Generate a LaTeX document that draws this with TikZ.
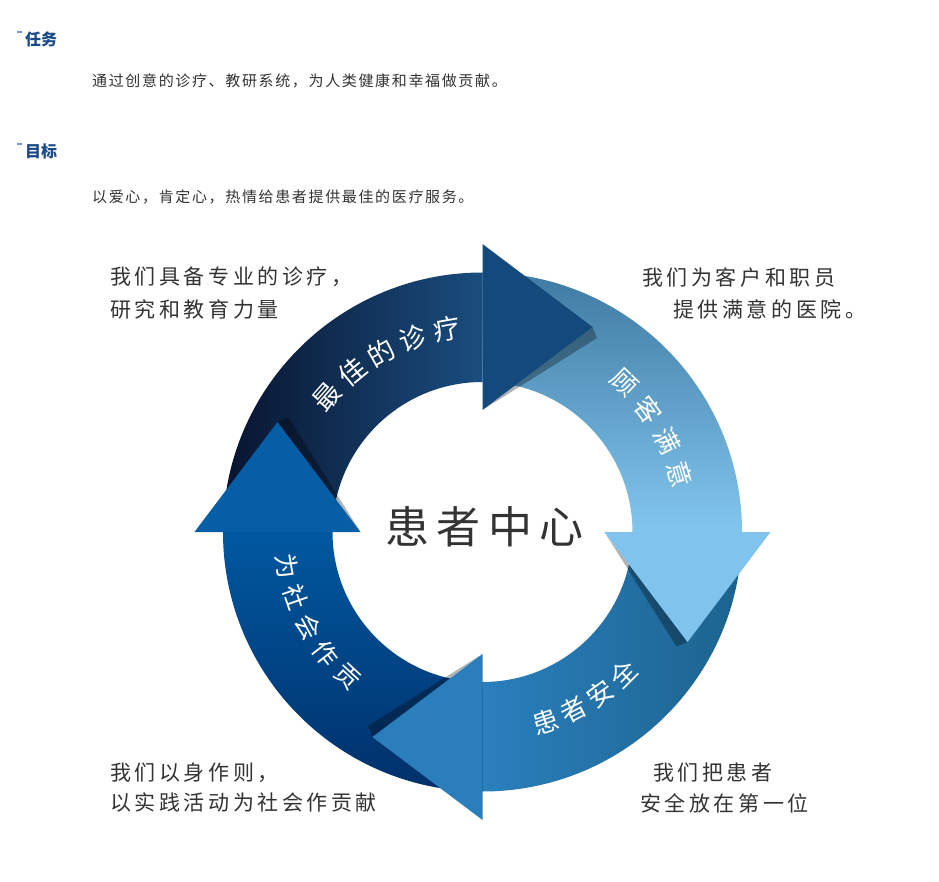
\documentclass[tikz,border=0pt]{standalone}
\usepackage{fontspec}
\newfontfamily\cjk{Noto Sans CJK SC}
\newfontfamily\cjkls[LetterSpace=17]{Noto Sans CJK SC}
\newfontfamily\cjkhd[LetterSpace=11]{Noto Sans CJK SC}
\definecolor{hdblue}{HTML}{1B4A8A}
\definecolor{dashblue}{HTML}{7A9CC8}
\definecolor{txtgray}{HTML}{333333}
\definecolor{topA}{HTML}{08142F}
\definecolor{topB}{HTML}{1A4D7E}
\definecolor{topHead}{HTML}{144A7B}
\definecolor{rightA}{HTML}{3F7AA2}
\definecolor{rightB}{HTML}{82C6EE}
\definecolor{rightHead}{HTML}{80C4EE}
\definecolor{botA}{HTML}{2A7FBD}
\definecolor{botB}{HTML}{1C638E}
\definecolor{botHead}{HTML}{2A7EBC}
\definecolor{leftA}{HTML}{0058A0}
\definecolor{leftB}{HTML}{00306A}
\definecolor{leftHead}{HTML}{055EA6}
\begin{document}
\begin{tikzpicture}[x=1pt,y=1pt,
  hdtext/.style={anchor=west,inner sep=0pt,text=hdblue,font=\cjk\bfseries\fontsize{16}{16}\selectfont},
  bodytext/.style={anchor=west,inner sep=0pt,text=txtgray,font=\cjkhd\fontsize{15}{15}\selectfont},
  cornertext/.style={anchor=west,inner sep=0pt,text=txtgray,font=\cjkls\fontsize{21}{21}\selectfont},
  arctext/.style={inner sep=0pt,text=white,font=\cjk\fontsize{26}{26}\selectfont},
  shadowtri/.style={fill=black,opacity=0.3}]
\useasboundingbox (-482.5,-349) rectangle (456.5,532);
\fill[white] (-482.5,-349) rectangle (456.5,532);

% header
\draw[dashblue,line width=1.5pt] (-465.5,500) -- (-460.5,500);
\node[hdtext] (h1) at (-457.5,493) {任务};
\node[bodytext] (b1) at (-390.5,451) {通过创意的诊疗、教研系统，为人类健康和幸福做贡献。};
\draw[dashblue,line width=1.5pt] (-465.5,388) -- (-460.5,388);
\node[hdtext] (h2) at (-457.5,381) {目标};
\node[bodytext] (b2) at (-390.5,335) {以爱心，肯定心，热情给患者提供最佳的医疗服务。};

% ring bodies
\shade[left color=topA,right color=topB]
  (180:259.5) arc[start angle=180,end angle=90,radius=259.5] -- (90:150) arc[start angle=90,end angle=180,radius=150] -- cycle;
\shade[top color=rightA,bottom color=rightB]
  (90:259.5) arc[start angle=90,end angle=0,radius=259.5] -- (0:150) arc[start angle=0,end angle=90,radius=150] -- cycle;
\shade[left color=botA,right color=botB]
  (0:259.5) arc[start angle=0,end angle=-90,radius=259.5] -- (-90:150) arc[start angle=-90,end angle=0,radius=150] -- cycle;
\shade[top color=leftA,bottom color=leftB]
  (-90:259.5) arc[start angle=-90,end angle=-180,radius=259.5] -- (-180:150) arc[start angle=-180,end angle=-90,radius=150] -- cycle;

% heads with shadows
\begin{scope}
  \fill[shadowtri] (0,122) -- (114.5,194) -- (110,205) -- cycle;
  \fill[topHead] (0,122) -- (0,288) -- (110,205) -- cycle;
\end{scope}
\begin{scope}[rotate=-90]
  \fill[shadowtri] (0,122) -- (114.5,194) -- (110,205) -- cycle;
  \fill[rightHead] (0,122) -- (0,288) -- (110,205) -- cycle;
\end{scope}
\begin{scope}[rotate=-180]
  \fill[shadowtri] (0,122) -- (114.5,194) -- (110,205) -- cycle;
  \fill[botHead] (0,122) -- (0,288) -- (110,205) -- cycle;
\end{scope}
\begin{scope}[rotate=90]
  \fill[shadowtri] (0,122) -- (114.5,194) -- (110,205) -- cycle;
  \fill[leftHead] (0,122) -- (0,288) -- (110,205) -- cycle;
\end{scope}

% arc texts
\foreach \ch [count=\i] in {最,佳,的,诊,疗}
  \node[arctext,font=\cjk\fontsize{27}{27}\selectfont,rotate={139-(\i-1)*9.75-90}] (ta\i) at ({139-(\i-1)*9.75}:206) {\ch};
\foreach \ch [count=\i] in {顾,客,满,意}
  \node[arctext,rotate={46.5-(\i-1)*10.07-90}] (ra\i) at ({46.5-(\i-1)*10.07}:206) {\ch};
\foreach \ch [count=\i] in {患,者,安,全}
  \node[arctext,rotate={-71.7+(\i-1)*8.87+90}] (ba\i) at ({-71.7+(\i-1)*8.87}:200) {\ch};
\foreach \ch [count=\i] in {为,社,会,作,贡}
  \node[arctext,font=\cjk\fontsize{25}{25}\selectfont,rotate={190+(\i-1)*9.25+90}] (la\i) at ({190+(\i-1)*9.25}:198) {\ch};

% center
\node[inner sep=0pt,text=txtgray,font=\cjkls\fontsize{44}{44}\selectfont] (center) at (2,5) {患者中心};

% corner texts
\node[cornertext] (c1a) at (-372.5,255) {我们具备专业的诊疗，};
\node[cornertext] (c1b) at (-372.5,223) {研究和教育力量};
\node[cornertext] (c2a) at (159.5,255) {我们为客户和职员};
\node[cornertext] (c2b) at (190.5,223) {提供满意的医院。};
\node[cornertext] (c3a) at (-372.5,-241) {我们以身作则，};
\node[cornertext] (c3b) at (-372.5,-271) {以实践活动为社会作贡献};
\node[cornertext] (c4a) at (170.5,-241) {我们把患者};
\node[cornertext] (c4b) at (157.5,-271) {安全放在第一位};
\end{tikzpicture}
\end{document}
